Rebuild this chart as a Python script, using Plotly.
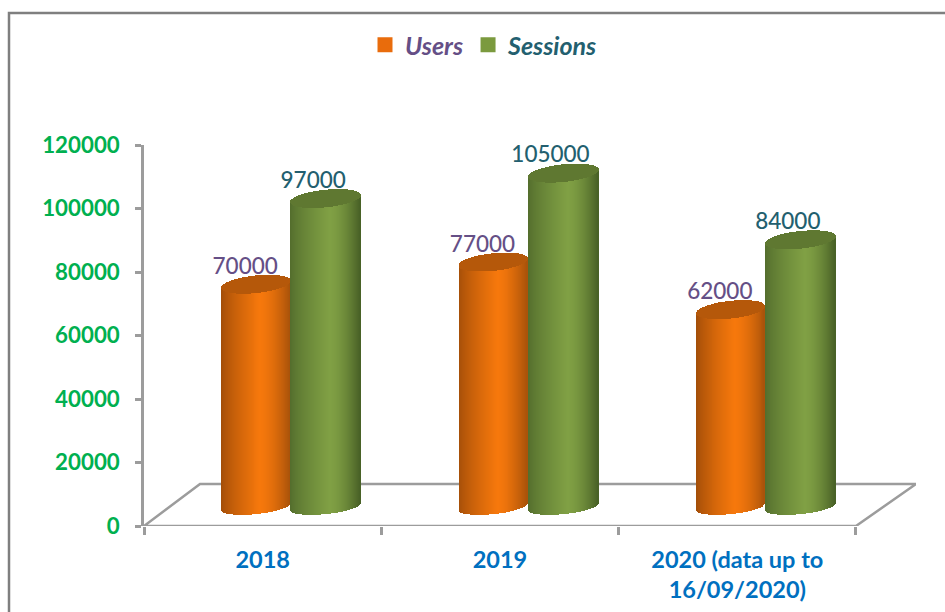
import math
import plotly.graph_objects as go

categories = ["2018", "2019", "2020 (data up to<br>16/09/2020)"]
users = [70000, 77000, 62000]
sessions = [97000, 105000, 84000]
y_ticks = [0, 20000, 40000, 60000, 80000, 100000, 120000]

W, H = 945, 612
L, R, T, B = 144, 916, 145, 526
PX_PER_CAT = 237.33
xmin, xmax = -0.5, -0.5 + (R - L) / PX_PER_CAT
PY = (B - T) / 120000  # px per unit

BASE = (B - 506.5) / PY
SEMI_MINOR = 7.6 / PY
CAP_MINOR = 8.8 / PY
TILT = 3.5 / PY
N = 70


def lerp(a, b, f):
    return tuple(a[i] + (b[i] - a[i]) * f for i in range(3))


def to_hex(c):
    return "#%02x%02x%02x" % tuple(int(round(v)) for v in c)


def shade(t, edgeL, mid, edgeR):
    peak = 0.12
    if t < peak:
        f = (t + 1) / (peak + 1)
        return to_hex(lerp(edgeL, mid, f ** 0.75))
    f = (t - peak) / (1 - peak)
    return to_hex(lerp(mid, edgeR, f ** 1.6))


def cylinder(values, off_px, half_px, edgeL, mid, edgeR, cap_col):
    xs, bases, heights, widths, colors = [], [], [], [], []
    cx, cb, ch = [], [], []
    hw = half_px / PX_PER_CAT
    step = 2 * hw / N
    for i, v in enumerate(values):
        c = i + off_px / PX_PER_CAT
        for k in range(N):
            t = -1 + (k + 0.5) * 2 / N
            s = math.sqrt(max(0, 1 - t * t))
            bottom = BASE + TILT * t - SEMI_MINOR * s
            top = BASE + v + TILT * t
            xs.append(c + t * hw)
            bases.append(bottom)
            heights.append(top - bottom)
            widths.append(step * 1.4)
            colors.append(shade(t, edgeL, mid, edgeR))
            cx.append(c + t * hw)
            cb.append(top - CAP_MINOR * s)
            ch.append(2 * CAP_MINOR * s)
    body = go.Bar(x=xs, y=heights, base=bases, width=widths,
                  marker=dict(color=colors, line=dict(width=0)),
                  showlegend=False, hoverinfo="skip")
    cap = go.Bar(x=cx, y=ch, base=cb, width=step * 1.4,
                 marker=dict(color=cap_col, line=dict(width=0)),
                 showlegend=False, hoverinfo="skip")
    return body, cap


ORANGE = ((0xa0, 0x4c, 0x08), (0xf6, 0x78, 0x0c), (0xa8, 0x52, 0x0a))
GREEN = ((0x52, 0x6c, 0x2c), (0x80, 0xa0, 0x44), (0x48, 0x60, 0x26))
PURPLE = "#654f86"
TEAL = "#235f6f"
ACC_ORANGE = "#e96c0c"
ACC_GREEN = "#7b9a3e"

fig = go.Figure()
fig.add_traces(cylinder(users, -6.5, 34.3, *ORANGE, "#b5580a"))
fig.add_traces(cylinder(sessions, 63.2, 35, *GREEN, "#5f7831"))

label_font = "Lato"
fig.add_trace(go.Scatter(
    x=[i + (-17.5) / PX_PER_CAT for i in range(3)],
    y=[BASE + v + 16 / PY for v in users],
    mode="text", text=[str(v) for v in users],
    textfont=dict(family=label_font, size=22.5, color=PURPLE, weight=500),
    showlegend=False, hoverinfo="skip", cliponaxis=False))
fig.add_trace(go.Scatter(
    x=[i + 50.5 / PX_PER_CAT for i in range(3)],
    y=[BASE + v + 16.5 / PY for v in sessions],
    mode="text", text=[str(v) for v in sessions],
    textfont=dict(family=label_font, size=22.5, color=TEAL, weight=500),
    showlegend=False, hoverinfo="skip", cliponaxis=False))

fig.add_trace(go.Scatter(
    x=[None], y=[None], mode="markers", name=f'<span style="color:{PURPLE}"><b><i>Users</i></b></span>',
    marker=dict(symbol="square", size=15, color=ACC_ORANGE)))
fig.add_trace(go.Scatter(
    x=[None], y=[None], mode="markers", name=f'<span style="color:{TEAL}"><b><i>Sessions</i></b></span>',
    marker=dict(symbol="square", size=15, color=ACC_GREEN)))

GREY = "#9c9c9c"
back_y = (B - 484) / PY
xfront_r = 2.5
xback_l = -0.5 + 56 / PX_PER_CAT
fig.add_shape(type="path", xref="x", yref="y", layer="below",
              path=f"M -0.5 0 L {xback_l} {back_y} L {xmax} {back_y} L {xfront_r} 0 Z",
              line=dict(color=GREY, width=2.5), fillcolor="rgba(0,0,0,0)")
# outer frame running off the top-right of the picture
fig.add_shape(type="rect", xref="paper", yref="paper",
              x0=(9 - L) / (R - L), x1=(W + 20 - L) / (R - L),
              y0=(B - H - 20) / (B - T), y1=(B - 13) / (B - T),
              line=dict(color="#7f7f7f", width=2.5), layer="below")

fig.update_layout(
    width=W, height=H, autosize=False,
    margin=dict(l=L, r=W - R, t=T, b=H - B, pad=0, autoexpand=False),
    paper_bgcolor="white", plot_bgcolor="white",
    barmode="overlay", bargap=0,
    showlegend=True,
    legend=dict(orientation="h", x=(484 - L) / (R - L), xanchor="center",
                y=(B - 45) / (B - T), yanchor="middle",
                font=dict(family=label_font, size=25),
                bgcolor="rgba(0,0,0,0)", itemwidth=30),
    xaxis=dict(range=[xmin, xmax], tickmode="array", tickvals=[0, 1, 2], ticktext=categories,
               showgrid=False, zeroline=False, showline=False, ticks="", automargin=False,
               ticklabelstandoff=17,
               tickfont=dict(family=label_font, size=23.5, color="#0070c0", weight="bold"),
               minor=dict(tickmode="array", tickvals=[-0.5, 0.5, 1.5, 2.5], ticks="outside",
                          ticklen=8, tickwidth=2.5, tickcolor=GREY, showgrid=False)),
    yaxis=dict(range=[0, 120000], tickmode="array", tickvals=y_ticks,
               ticktext=[str(v) for v in y_ticks],
               showgrid=False, zeroline=False, showline=True, linecolor=GREY, linewidth=2.5,
               ticks="outside", ticklen=6, tickwidth=2.5, tickcolor=GREY, automargin=False,
               ticklabelstandoff=11,
               tickfont=dict(family=label_font, size=22.3, color="#00b050", weight="bold")),
)

fig.write_html("out.html", config={"displayModeBar": False},
               post_script="document.body.style.margin='0';")
